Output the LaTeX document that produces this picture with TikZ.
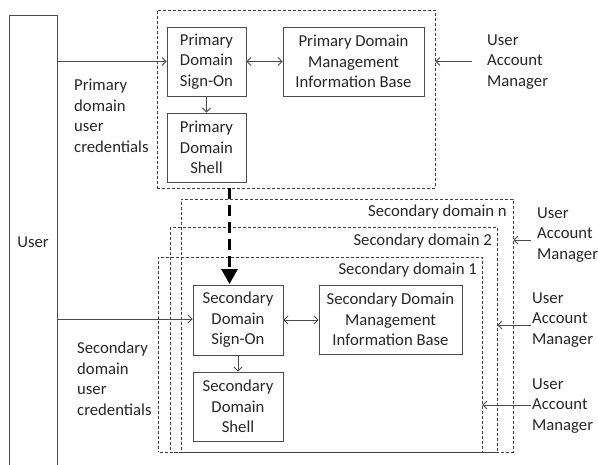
\documentclass[tikz,border=0pt]{standalone}
\usepackage{fontspec}
\setmainfont{Carlito}
\usetikzlibrary{arrows.meta}
\tikzset{
  every node/.style={inner sep=0pt, text=black!85, font=\fontsize{16.7}{20.5}\selectfont},
  box/.style={draw=black!70, line width=0.9pt, rectangle, align=center},
  dom/.style={draw=black!75, line width=0.8pt, dash pattern=on 3pt off 2pt, rectangle},
  conn/.style={draw=black!70, line width=0.8pt, -{Straight Barb[length=4pt,width=8pt]}},
  conn2/.style={draw=black!70, line width=0.8pt, {Straight Barb[length=4pt,width=8pt]}-{Straight Barb[length=4pt,width=8pt]}},
  bigarrow/.style={draw=black, line width=3pt, dash pattern=on 11pt off 6pt, -{Triangle[length=15pt,width=16pt]}},
  lbl/.style={align=left, anchor=west},
}
\begin{document}
\begin{tikzpicture}[x=1pt,y=-1pt]
\useasboundingbox (0,0) rectangle (598,464);
% User column
\begin{scope}
\clip (0,0) rectangle (598,464);
\node[box, minimum width=48pt, minimum height=456pt] (user) at (33,243) {};
\end{scope}
\node (usertxt) at (33,242) {User};
% Primary domain
\node[dom, minimum width=278pt, minimum height=178pt] (pdom) at (296,99) {};
\node[box, minimum width=79pt, minimum height=69pt] (pso) at (206.5,61.5) {Primary\\Domain\\Sign-On};
\node[box, minimum width=79pt, minimum height=69pt] (psh) at (206.5,147.5) {Primary\\Domain\\Shell};
\node[box, minimum width=141pt, minimum height=69pt] (pmib) at (353.5,61.5) {Primary Domain\\Management\\Information Base};
\node[lbl] (pcred) at (74,116) {Primary\\domain\\user\\credentials};
\node[lbl] (uam0) at (487,62) {User\\Account\\Manager};
% Secondary domains
\node[dom, minimum width=332pt, minimum height=253pt] (dn) at (347,325.5) {};
\node[dom, minimum width=327pt, minimum height=225pt, dash phase=1.5pt] (d2) at (333.5,339.5) {};
\node[dom, minimum width=324pt, minimum height=195pt, dash phase=3pt] (d1) at (320,354.5) {};
\node[anchor=east] (dnl) at (507,212) {Secondary domain n};
\node[anchor=east] (d2l) at (492,241) {Secondary domain 2};
\node[anchor=east] (d1l) at (477,270) {Secondary domain 1};
\node[box, minimum width=90pt, minimum height=70pt] (sso) at (238,320) {Secondary\\Domain\\Sign-On};
\node[box, minimum width=90pt, minimum height=69pt] (ssh) at (238,406.5) {Secondary\\Domain\\Shell};
\node[box, minimum width=143pt, minimum height=69pt] (smib) at (390.5,319.5) {Secondary Domain\\Management\\Information Base};
\node[lbl] (scred) at (77,379) {Secondary\\domain\\user\\credentials};
\node[lbl] (uamn) at (537,235) {User\\Account\\Manager};
\node[lbl] (uam2) at (532,320) {User\\Account\\Manager};
\node[lbl] (uam1) at (532,406) {User\\Account\\Manager};
% connectors
\coordinate (u1) at (57,61.5);
\coordinate (u2) at (57,319);
\draw[conn] (u1) -- (u1 -| pso.west);
\draw[conn2] (pso.east) -- (pmib.west);
\draw[conn] (pso.south) -- (psh.north);
\draw[conn] (472,61.5) -- (pdom.east |- 0,61.5);
\draw[bigarrow] (229.5,188) -- (229.5,284);
\draw[conn] (u2) -- (u2 -| sso.west);
\draw[conn2] (sso.east) -- (sso.east -| smib.west);
\draw[conn] (sso.south) -- (ssh.north);
\draw[conn] (531,240) -- (dn.east |- 0,240);
\draw[conn] (531,325) -- (d2.east |- 0,325);
\draw[conn] (531,405) -- (d1.east |- 0,405);
\end{tikzpicture}
\end{document}
